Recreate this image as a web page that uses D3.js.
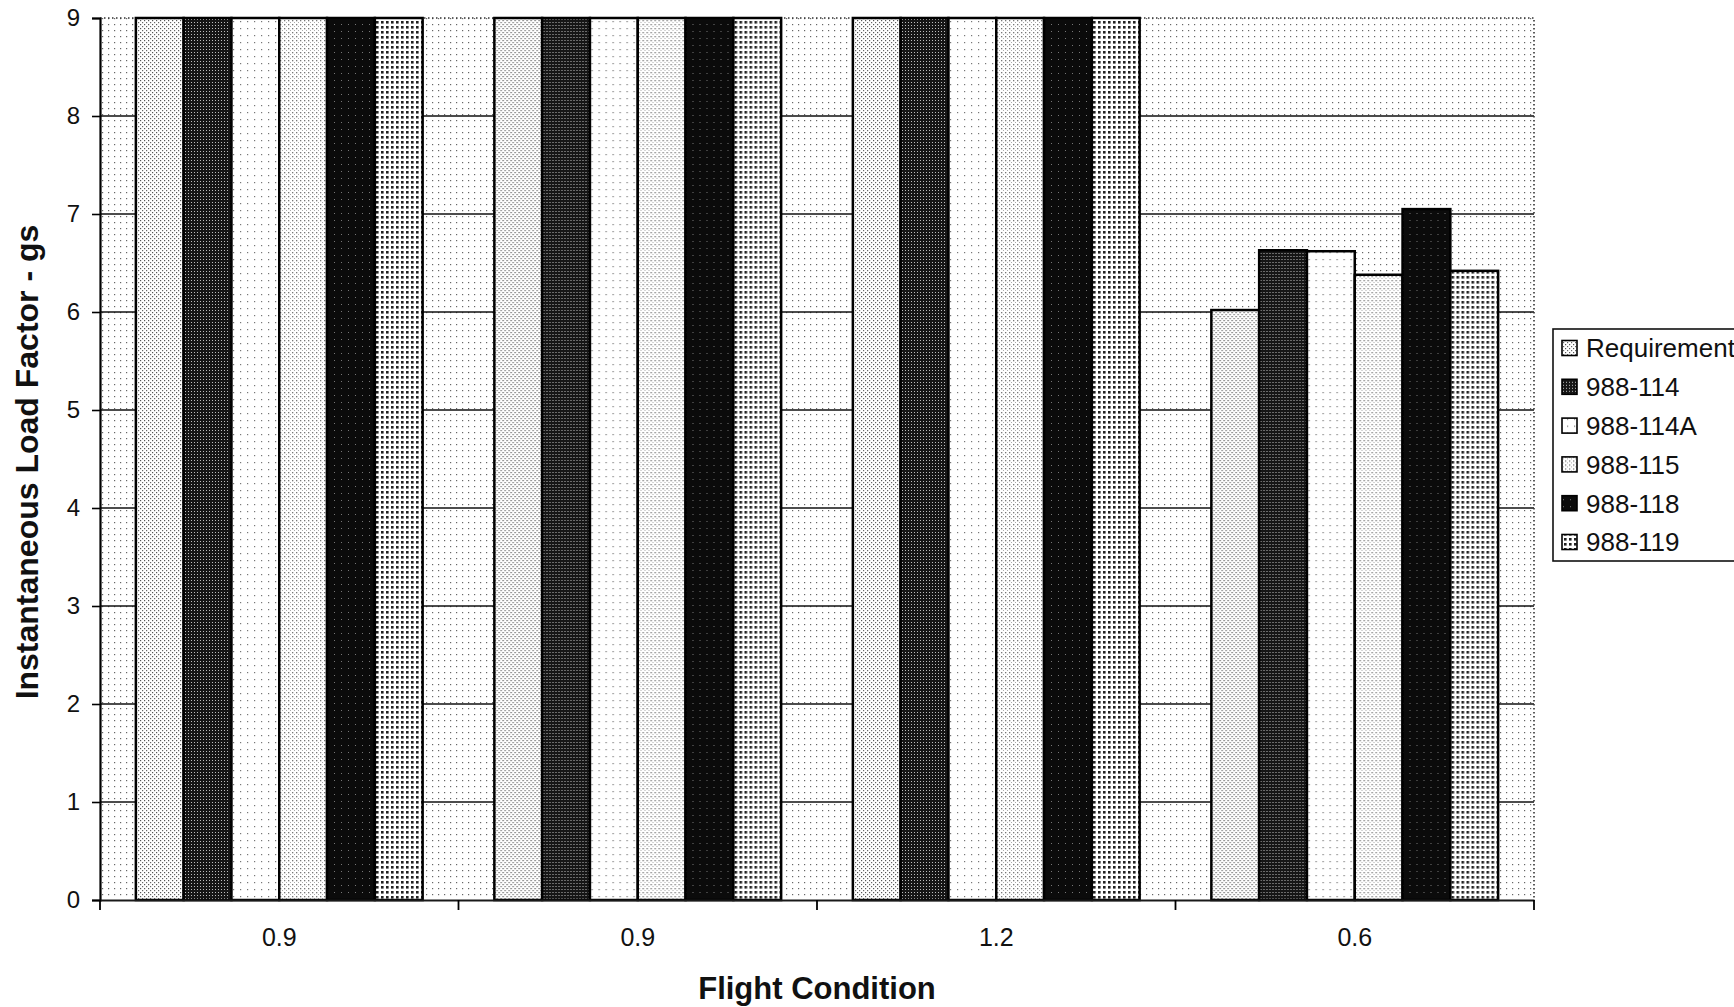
<!DOCTYPE html>
<html>
<head>
<meta charset="utf-8">
<script src="https://cdn.jsdelivr.net/npm/d3@7"></script>
<style>
  html, body { margin: 0; padding: 0; background: #fff; }
  svg { display: block; }
  text { font-family: "Liberation Sans", Arial, sans-serif; fill: #111; }
</style>
</head>
<body>
<svg id="chart" width="1734" height="1007"></svg>
<script>
// Flight conditions (Mach) along the x axis
const conditions = ["0.9", "0.9", "1.2", "0.6"];
const seriesNames = ["Requirement", "988-114", "988-114A", "988-115", "988-118", "988-119"];

// Instantaneous load factor (g) per configuration, one value per flight condition
const requirement = [9, 9, 9, 6.02];
const v988_114    = [9, 9, 9, 6.63];
const v988_114A   = [9, 9, 9, 6.62];
const v988_115    = [9, 9, 9, 6.38];
const v988_118    = [9, 9, 9, 7.05];
const v988_119    = [9, 9, 9, 6.42];

const yTicks = [0, 1, 2, 3, 4, 5, 6, 7, 8, 9];

const seriesValues = [requirement, v988_114, v988_114A, v988_115, v988_118, v988_119];
const patternIds = ["p-req", "p-114", "p-114a", "p-115", "p-118", "p-119"];

const svg = d3.select("#chart");
const plot = { left: 100, right: 1534, top: 18, bottom: 900 };

// ---- halftone-style fill patterns ----
const defs = svg.append("defs");
function dotPattern(id, size, bg, dots) {
  const p = defs.append("pattern")
    .attr("id", id).attr("patternUnits", "userSpaceOnUse")
    .attr("width", size).attr("height", size);
  p.append("rect").attr("width", size).attr("height", size).attr("fill", bg);
  dots.forEach(d => p.append("rect")
    .attr("x", d[0]).attr("y", d[1]).attr("width", d[2]).attr("height", d[2])
    .attr("fill", d[3]));
}
dotPattern("p-bg",   6, "#ffffff", [[0, 0, 1.2, "#666"]]);
dotPattern("p-req",  4, "#ffffff", [[0, 0, 1.2, "#555"], [2, 2, 1.2, "#666"]]);
dotPattern("p-114",  3, "#161616", [[1, 1, 1.0, "#bdbdbd"]]);
dotPattern("p-114a", 7, "#ffffff", [[0, 0, 1.2, "#777"]]);
dotPattern("p-115",  4, "#ffffff", [[0, 0, 1.3, "#777"], [2, 2, 1.0, "#aaa"]]);
dotPattern("p-118",  7, "#0b0b0b", [[3, 3, 1.0, "#777"]]);
dotPattern("p-119",  5, "#ffffff", [[1, 1, 2.6, "#222"]]);

// ---- scales ----
const x0 = d3.scaleBand()
  .domain(d3.range(conditions.length))
  .range([plot.left, plot.right])
  .paddingInner(0).paddingOuter(0);

const x1 = d3.scaleBand()
  .domain(d3.range(seriesNames.length))
  .range([0, x0.bandwidth()])
  .paddingInner(0).paddingOuter(0.75);

const y = d3.scaleLinear().domain([0, 9]).range([plot.bottom, plot.top]);

// ---- plot background ----
svg.append("rect")
  .attr("x", plot.left).attr("y", plot.top)
  .attr("width", plot.right - plot.left).attr("height", plot.bottom - plot.top)
  .attr("fill", "url(#p-bg)");

// horizontal gridlines
svg.append("g").selectAll("line")
  .data(yTicks.filter(t => t > 0 && t < 9))
  .join("line")
  .attr("x1", plot.left).attr("x2", plot.right)
  .attr("y1", d => y(d)).attr("y2", d => y(d))
  .attr("stroke", "#111").attr("stroke-width", 1.6);

// dotted top and right borders of the plot area
svg.append("path")
  .attr("d", `M${plot.left},${y(9)}H${plot.right}V${plot.bottom}`)
  .attr("fill", "none").attr("stroke", "#333")
  .attr("stroke-width", 1.6).attr("stroke-dasharray", "1.5,2.5");

// ---- bars ----
const groups = svg.append("g").selectAll("g")
  .data(d3.range(conditions.length))
  .join("g")
  .attr("transform", i => `translate(${x0(i)},0)`);

groups.selectAll("rect")
  .data(i => seriesValues.map((vals, s) => ({ s, v: vals[i] })))
  .join("rect")
  .attr("x", d => x1(d.s))
  .attr("width", x1.bandwidth())
  .attr("y", d => y(d.v))
  .attr("height", d => y(0) - y(d.v))
  .attr("fill", d => `url(#${patternIds[d.s]})`)
  .attr("stroke", "#000").attr("stroke-width", 2.5);

// ---- axes ----
const yAxis = svg.append("g")
  .attr("transform", `translate(${plot.left},0)`)
  .call(d3.axisLeft(y).tickValues(yTicks).tickSize(8).tickPadding(12).tickFormat(d3.format("d")));
yAxis.select(".domain").attr("stroke", "#000").attr("stroke-width", 2.2);
yAxis.selectAll(".tick line").attr("stroke", "#000").attr("stroke-width", 1.6);
yAxis.selectAll(".tick text").style("font-size", "24px").attr("fill", "#111");

const xAxis = svg.append("g")
  .attr("transform", `translate(0,${plot.bottom})`)
  .call(d3.axisBottom(x0).tickSize(0).tickPadding(28).tickFormat(i => conditions[i]));
xAxis.select(".domain").attr("stroke", "#1a1a1a").attr("stroke-width", 2.2);
xAxis.selectAll(".tick text").style("font-size", "25px").attr("fill", "#111");

// category boundary tick marks
const boundaries = d3.range(conditions.length).map(i => x0(i)).concat([x0.range()[1]]);
svg.append("g").selectAll("line")
  .data(boundaries)
  .join("line")
  .attr("x1", d => d).attr("x2", d => d)
  .attr("y1", plot.bottom).attr("y2", plot.bottom + 10)
  .attr("stroke", "#000").attr("stroke-width", 1.8);

// ---- axis titles ----
svg.append("text")
  .attr("x", (plot.left + plot.right) / 2).attr("y", 999)
  .attr("text-anchor", "middle")
  .style("font-size", "31px").style("font-weight", "bold")
  .text("Flight Condition");

svg.append("text")
  .attr("transform", `translate(38,${(plot.top + plot.bottom) / 2 + 3}) rotate(-90)`)
  .attr("text-anchor", "middle")
  .style("font-size", "32px").style("font-weight", "bold")
  .text("Instantaneous Load Factor - gs");

// ---- legend ----
const legend = svg.append("g").attr("transform", "translate(1553,329)");
legend.append("rect")
  .attr("x", 0).attr("y", 0).attr("width", 260).attr("height", 232)
  .attr("fill", "#fff").attr("stroke", "#111").attr("stroke-width", 1.6);

const rowY = d3.scalePoint().domain(d3.range(seriesNames.length)).range([19, 213]);
const items = legend.selectAll("g.item")
  .data(seriesNames)
  .join("g").attr("class", "item")
  .attr("transform", (d, i) => `translate(0,${rowY(i)})`);
items.append("rect")
  .attr("x", 9).attr("y", -7.5).attr("width", 15).attr("height", 15)
  .attr("fill", (d, i) => `url(#${patternIds[i]})`)
  .attr("stroke", "#000").attr("stroke-width", 1.6);
items.append("text")
  .attr("x", 33).attr("y", 0).attr("dy", "0.36em")
  .style("font-size", "26px")
  .text(d => d);
</script>
</body>
</html>
